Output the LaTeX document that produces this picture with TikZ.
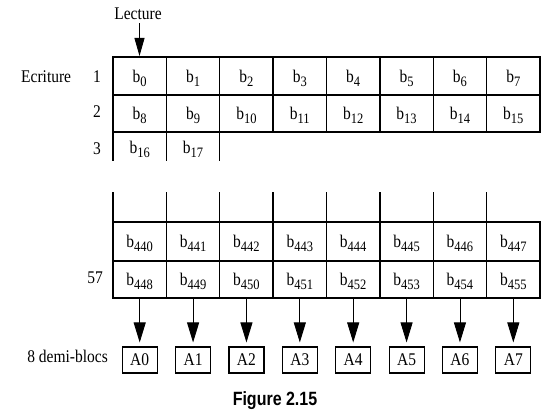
\documentclass[tikz,border=0pt]{standalone}
\usepackage{fontspec}
\setmainfont{Liberation Serif}
\newfontfamily\capfont{Liberation Sans}
\usetikzlibrary{arrows.meta}
\newcommand{\vs}[1]{\scalebox{1}[1.15]{#1}}
\newcommand{\bsub}[1]{\vs{b\raisebox{-3.5pt}{\fontsize{12.5}{13}\selectfont #1}}}
\begin{document}
\begin{tikzpicture}[x=1pt,y=-1pt,font=\fontsize{15.5}{18}\selectfont,
  grid/.style={line width=1.4pt,line cap=rect},
  cell/.style={inner sep=0pt,anchor=base},
  lbl/.style={inner sep=0pt,anchor=base},
  blk/.style={draw,line width=1.1pt,minimum width=35pt,minimum height=26pt,inner sep=0pt},
  arr/.style={-{Triangle[width=12pt,length=20pt]},line width=0.9pt,shorten >=4pt},
  arrs/.style={-{Triangle[width=10pt,length=18pt]},line width=0.9pt,shorten <=3pt}]
\useasboundingbox (0,0) rectangle (554,412);
\def\cw{53.375}
% top grid
\foreach \i in {0,...,8} {\draw[grid] ({113+\i*\cw},57) -- ({113+\i*\cw},132);}
\foreach \y in {57,95,132} {\draw[grid] (113,\y) -- (540,\y);}
\foreach \i in {0,1,2} {\draw[grid] ({113+\i*\cw},132) -- ({113+\i*\cw},160);}
% bottom grid
\foreach \i in {0,...,7} {\draw[grid] ({113+\i*\cw},193) -- ({113+\i*\cw},298);}
\draw[grid] (540,222) -- (540,298);
\foreach \y in {222,261,298} {\draw[grid] (113,\y) -- (540,\y);}
% cells
\foreach \i in {0,...,7} {
  \pgfmathtruncatemacro\n{\i}
  \node[cell] (b\n) at ({139.7+\i*\cw},82) {\bsub{\n}};
  \pgfmathtruncatemacro\m{8+\i}
  \node[cell] (b\m) at ({139.7+\i*\cw},119) {\bsub{\m}};
  \pgfmathtruncatemacro\p{440+\i}
  \node[cell] (b\p) at ({139.7+\i*\cw},247) {\bsub{\p}};
  \pgfmathtruncatemacro\q{448+\i}
  \node[cell] (b\q) at ({139.7+\i*\cw},285) {\bsub{\q}};
}
\begin{scope}
  \clip (100,132) rectangle (230,158);
  \node[cell] (b16) at (139.7,153) {\bsub{16}};
  \node[cell] (b17) at ({139.7+\cw},153) {\bsub{17}};
\end{scope}
% labels
\node[lbl,anchor=base west] (ecr) at (21,82) {\vs{Ecriture}};
\node[lbl] (r1) at (97,82) {\vs{1}};
\node[lbl] (r2) at (97,117) {\vs{2}};
\node[lbl] (r3) at (97,154) {\vs{3}};
\node[lbl,anchor=base east] (r57) at (103,283) {\vs{57}};
\node[lbl,anchor=base east] (demi) at (108,362) {\vs{8 demi-blocs}};
\node[lbl] (lec) at (138,20) {\vs{Lecture}};
\coordinate (lt) at (139.5,56);
\draw[arrs] (lec.south -| lt) -- (lt);
% half-blocks
\foreach \i in {0,...,7} {
  \coordinate (t\i) at ({139.7+\i*\cw},298);
  \node[blk] (A\i) at ({139.7+\i*\cw},360) {\vs{A\i}};
  \draw[arr] (t\i) -- (A\i.north);
}
\node[lbl,font=\capfont\bfseries\fontsize{16}{18}\selectfont] (cap) at (275,405) {\scalebox{1}[1.2]{Figure 2.15}};
\end{tikzpicture}
\end{document}
